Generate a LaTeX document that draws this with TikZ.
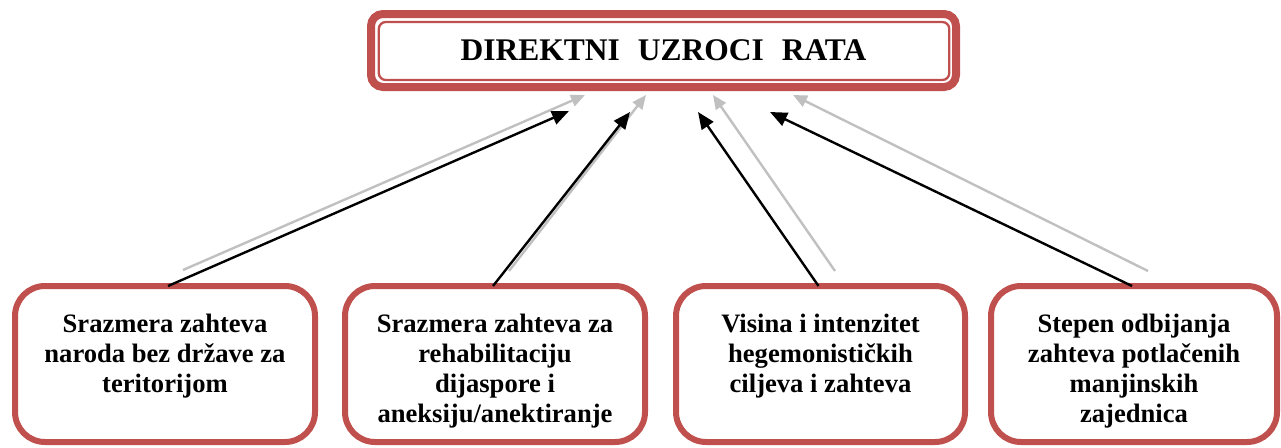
\documentclass[tikz,border=0pt]{standalone}
\usepackage{fontspec}
\setmainfont{Liberation Serif}
\usetikzlibrary{arrows.meta}
\definecolor{boxred}{HTML}{C0504D}
\definecolor{shadowgray}{HTML}{C0C0C0}
\begin{document}
\begin{tikzpicture}[x=1pt,y=-1pt,
  causebox/.style={draw=boxred, line width=6pt, rounded corners=30pt, minimum width=300pt, minimum height=156pt, inner sep=0pt, outer sep=0pt},
  causetext/.style={anchor=north, align=center, inner sep=0pt, font=\fontsize{26.6}{30}\selectfont\bfseries},
  titlebox/.style={draw=boxred, line width=8pt, rounded corners=12pt, minimum width=585pt, minimum height=73pt, inner sep=0pt, outer sep=0pt, font=\fontsize{31.5}{36}\selectfont\bfseries},
  titleinner/.style={draw=boxred, line width=2.3pt, rounded corners=7pt},
  mainarrow/.style={draw=black, line width=2.4pt, -{Triangle[length=17pt,width=14pt]}},
  shadowarrow/.style={draw=shadowgray, line width=2.4pt, -{Triangle[length=14pt,width=12pt]}},
]
\useasboundingbox (0,0) rectangle (1281,447);

% title
\node[titlebox] (title) at (663.5,50.5) {DIREKTNI\hspace{18pt}UZROCI\hspace{18pt}RATA};
\draw[titleinner] ([shift={(7.8,8)}]title.north west) rectangle ([shift={(-6.7,-7)}]title.south east);

% boxes
\node[causebox] (b1) at (165,364) {};
\node[causebox] (b2) at (495,364) {};
\node[causebox, minimum width=289pt] (b3) at (820.5,364) {};
\node[causebox, minimum width=286pt] (b4) at (1134,364) {};

\node[causetext] (t1) at (165,313.7) {Srazmera zahteva\\naroda bez države za\\teritorijom};
\node[causetext] (t2) at (495,313.7) {Srazmera zahteva za\\rehabilitaciju\\dijaspore i\\aneksiju/anektiranje};
\node[causetext] (t3) at (820.5,313.7) {Visina i intenzitet\\hegemonističkih\\ciljeva i zahteva};
\node[causetext] (t4) at (1134,313.7) {Stepen odbijanja\\zahteva potlačenih\\manjinskih\\zajednica};

% arrow coordinates
\coordinate (g1s) at (183,270);  \coordinate (g1e) at (585,95);
\coordinate (g2s) at (509,271);  \coordinate (g2e) at (646,95);
\coordinate (g3s) at (835,271);  \coordinate (g3e) at (713,95);
\coordinate (g4s) at (1148,271); \coordinate (g4e) at (793,95);
\coordinate (a1) at (569,111);
\coordinate (a2) at (630,112);
\coordinate (a3) at (698,112);
\coordinate (a4) at (770,112);

% shadow arrows
\draw[shadowarrow] (g1s) -- (g1e);
\draw[shadowarrow] (g2s) -- (g2e);
\draw[shadowarrow] (g3s) -- (g3e);
\draw[shadowarrow] (g4s) -- (g4e);

% main arrows
\draw[mainarrow] ([xshift=3pt]b1.north) -- (a1);
\draw[mainarrow] ([xshift=-2pt]b2.north) -- (a2);
\draw[mainarrow] ([xshift=-2pt]b3.north) -- (a3);
\draw[mainarrow] ([xshift=-2pt]b4.north) -- (a4);
\end{tikzpicture}
\end{document}
